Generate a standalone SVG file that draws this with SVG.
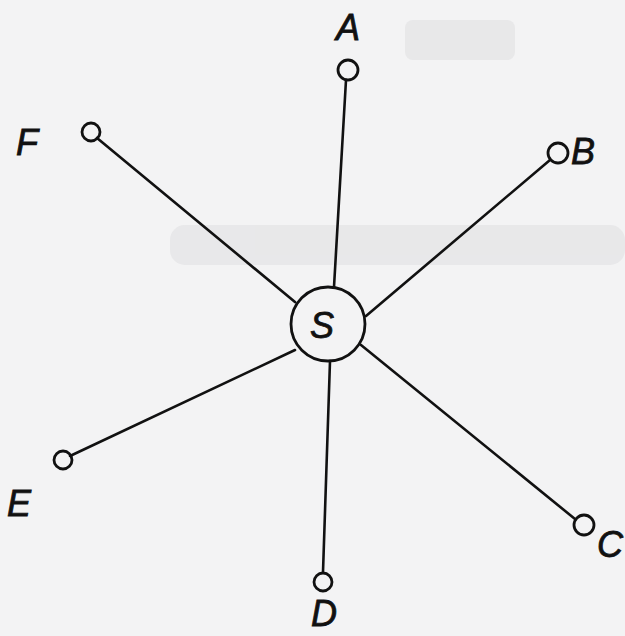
<svg xmlns="http://www.w3.org/2000/svg" width="625" height="636" viewBox="0 0 625 636">
<style>
.edge{stroke:#111;stroke-width:2.6;fill:none;stroke-linecap:round}
.node{fill:none;stroke:#111;stroke-width:2.8}
.lbl{font-family:"Liberation Sans",Arial,sans-serif;font-style:italic;font-size:36px;fill:#111;stroke:#111;stroke-width:0.8}
</style>
<rect width="625" height="636" fill="#f3f3f4"/>
<g opacity="0.25" fill="#c8c8cc">
<rect x="405" y="20" width="110" height="40" rx="8"/>
<rect x="170" y="225" width="455" height="40" rx="15"/>
</g>
<g id="connectors">
<line class="edge" x1="346" y1="80" x2="334" y2="287"/>
<line class="edge" x1="550" y1="160" x2="366" y2="316"/>
<line class="edge" x1="575" y1="519" x2="361" y2="345"/>
<line class="edge" x1="323" y1="572" x2="330" y2="361"/>
<line class="edge" x1="70" y1="456" x2="295" y2="350"/>
<line class="edge" x1="97" y1="138" x2="295" y2="302"/>
</g>
<g id="S"><circle class="node" cx="328" cy="324" r="37" stroke-width="3"/><text class="lbl" x="310" y="338">S</text></g>
<g id="A"><circle class="node" cx="348" cy="70" r="10"/><text class="lbl" x="336" y="40">A</text></g>
<g id="B"><circle class="node" cx="558" cy="153" r="10"/><text class="lbl" x="571" y="164">B</text></g>
<g id="C"><circle class="node" cx="584" cy="525" r="10"/><text class="lbl" x="597" y="557">C</text></g>
<g id="D"><circle class="node" cx="323" cy="582" r="9"/><text class="lbl" x="311" y="626" font-size="34">D</text></g>
<g id="E"><circle class="node" cx="63" cy="460" r="9"/><text class="lbl" x="7" y="516">E</text></g>
<g id="F"><circle class="node" cx="91" cy="132" r="9"/><text class="lbl" x="16" y="155">F</text></g>
</svg>
